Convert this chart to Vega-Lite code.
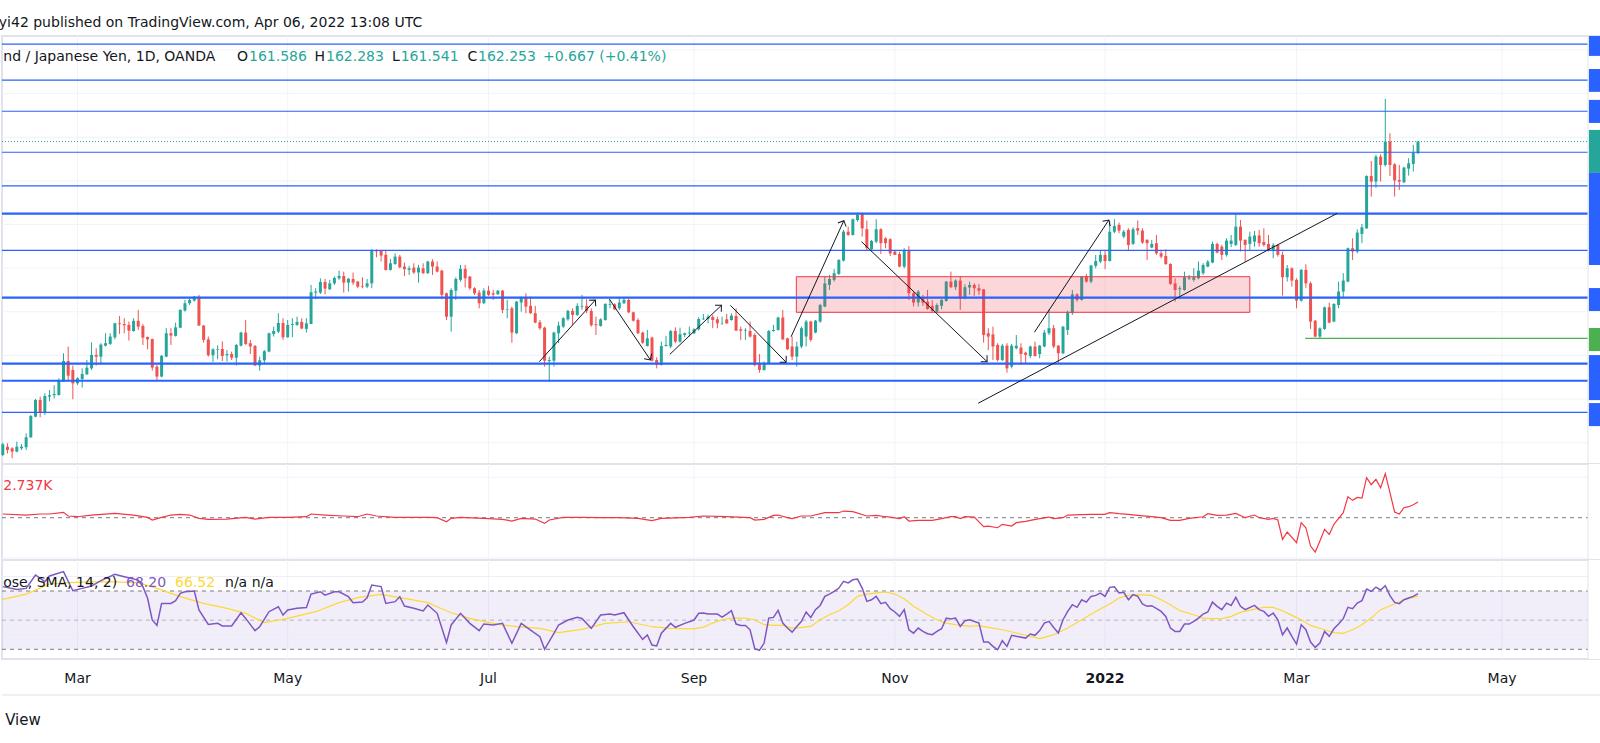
{
"$schema":"https://vega.github.io/schema/vega-lite/v6.json",
"background":"#ffffff",
"padding":{"left":-2,"top":15,"right":0,"bottom":0},
"title":{"text":"yi42 published on TradingView.com, Apr 06, 2022 13:08 UTC","anchor":"start","font":"DejaVu Sans","fontSize":14,"fontWeight":"normal","color":"#131722","offset":5},
"spacing":0,
"bounds":"flush",
"resolve":{"scale":{"x":"independent","y":"independent","color":"independent","strokeWidth":"independent"}},
"config":{"view":{"stroke":"#e0e3eb","strokeWidth":2},"axis":{"disable":true},"text":{"font":"DejaVu Sans","fontSize":14}},
"vconcat":[
{"width":1600,"height":428,
"layer":[
{"data":{"values":[{"k":16},{"k":61},{"k":104},{"k":148},{"k":191},{"k":236},{"k":277},{"k":321}]},"mark":{"type":"rule","color":"#f0f3fa"},
 "encoding":{"x":{"field":"k","type":"quantitative","scale":{"domain":[-0.17,342.4],"nice":false,"zero":false,"padding":0}}}},
{"data":{"values":[{"p":145},{"p":147.5},{"p":150},{"p":152.5},{"p":155},{"p":157.5},{"p":160},{"p":162.5},{"p":165},{"p":167.5}]},"mark":{"type":"rule","color":"#f0f3fa"},
 "encoding":{"x":{"datum":-0.17},"x2":{"datum":339.4},"y":{"field":"p","type":"quantitative","scale":{"domain":[143.78,168.3],"nice":false,"zero":false,"padding":0}}}},
{"data":{"values":"k,o,h,l,c\n0,144.30,145.00,144.24,144.91\n1,144.77,144.97,144.39,144.58\n2,144.68,144.74,144.11,144.49\n3,144.49,145.06,144.45,144.77\n4,144.68,144.93,144.58,144.77\n5,144.74,145.54,144.58,145.31\n6,145.31,146.59,145.27,146.53\n7,146.49,147.51,146.46,147.45\n8,147.45,147.64,146.46,146.74\n9,146.74,147.83,146.59,147.68\n10,147.64,148.02,147.37,147.72\n11,147.72,148.29,147.54,147.79\n12,147.73,148.69,147.70,148.59\n13,148.50,150.12,148.50,149.68\n14,149.68,150.51,148.50,148.84\n15,149.17,149.42,147.49,148.40\n16,148.40,148.75,148.31,148.69\n17,148.65,149.26,148.16,148.94\n18,148.92,149.74,148.88,149.30\n19,149.26,150.75,149.17,150.03\n20,150.03,150.41,149.42,149.93\n21,149.93,150.70,149.49,150.62\n22,150.56,151.27,150.51,150.70\n23,150.66,151.27,150.60,151.08\n24,151.04,151.88,150.92,151.84\n25,151.84,152.26,151.23,151.79\n26,151.80,152.13,151.27,151.73\n27,151.75,151.94,150.85,151.42\n28,151.40,152.13,151.36,151.98\n29,151.98,152.61,151.46,151.65\n30,151.69,151.80,150.60,151.02\n31,151.06,151.08,150.35,150.92\n32,150.94,150.96,149.13,149.30\n33,149.36,149.45,148.54,148.79\n34,148.79,150.03,148.75,149.97\n35,149.93,151.56,149.89,151.27\n36,151.27,151.56,150.60,151.14\n37,151.12,151.88,151.08,151.61\n38,151.59,152.64,151.56,152.61\n39,152.57,153.18,152.51,152.99\n40,152.99,153.26,152.89,153.18\n41,153.14,153.41,153.08,153.37\n42,153.37,153.47,151.69,151.71\n43,151.71,151.75,150.73,150.89\n44,150.92,151.08,149.93,150.01\n45,150.01,150.41,149.63,150.35\n46,150.33,150.58,149.78,150.37\n47,150.37,150.81,149.68,149.97\n48,150.01,150.31,149.65,150.08\n49,150.08,150.22,149.74,149.87\n50,149.87,150.66,149.42,150.60\n51,150.56,151.36,150.51,151.31\n52,151.31,152.03,150.60,150.66\n53,150.70,150.89,150.08,150.51\n54,150.54,150.60,149.40,149.42\n55,149.42,149.93,149.13,149.72\n56,149.72,150.31,149.55,150.24\n57,150.22,151.31,150.18,151.27\n58,151.23,151.65,151.08,151.40\n59,151.36,152.42,151.27,151.86\n60,151.86,152.13,150.89,151.04\n61,151.04,152.03,151.02,151.75\n62,151.75,152.13,151.04,151.80\n63,151.75,152.22,151.69,151.92\n64,151.92,152.13,151.50,151.54\n65,151.52,152.13,151.31,151.84\n66,151.80,154.04,151.80,153.62\n67,153.60,153.85,153.22,153.66\n68,153.60,154.42,153.52,154.21\n69,154.21,154.38,153.50,153.83\n70,153.79,154.33,153.75,154.13\n71,154.13,154.52,154.04,154.44\n72,154.42,154.86,154.33,154.55\n73,154.55,154.80,153.60,154.17\n74,154.17,154.42,153.66,154.40\n75,154.38,154.75,154.04,154.17\n76,154.23,154.27,153.85,153.94\n77,153.98,154.48,153.85,153.94\n78,153.94,154.38,153.85,154.13\n79,154.13,156.08,153.85,156.04\n80,156.04,156.08,155.62,155.95\n81,155.99,156.04,155.38,155.72\n82,155.76,156.01,154.86,154.90\n83,154.90,155.53,154.86,155.28\n84,155.24,155.85,155.19,155.66\n85,155.66,155.76,154.99,155.05\n86,155.09,155.32,154.55,154.94\n87,154.90,155.13,154.61,154.99\n88,155.03,155.28,154.67,154.75\n89,154.75,155.19,154.17,155.03\n90,154.99,155.28,154.67,154.71\n91,154.71,155.42,154.67,155.38\n92,155.38,155.51,154.61,155.09\n93,155.09,155.38,154.75,154.80\n94,154.86,154.90,153.22,153.47\n95,153.56,153.60,152.03,152.22\n96,152.22,153.85,151.36,153.75\n97,153.71,154.48,153.18,154.38\n98,154.33,155.19,154.23,154.96\n99,154.96,155.19,153.90,154.42\n100,154.52,154.55,153.75,153.85\n101,153.85,153.91,153.47,153.56\n102,153.60,153.75,152.70,152.99\n103,152.99,153.85,152.95,153.71\n104,153.71,153.98,153.41,153.47\n105,153.56,153.75,153.18,153.49\n106,153.50,153.75,153.47,153.71\n107,153.71,153.75,152.42,152.61\n108,152.63,153.18,152.13,152.66\n109,152.70,152.80,150.73,151.31\n110,151.27,153.12,151.23,153.08\n111,153.03,153.37,152.51,153.31\n112,153.31,153.56,152.42,152.80\n113,152.84,153.37,152.38,152.42\n114,152.42,152.84,151.84,151.88\n115,151.90,152.03,151.46,151.56\n116,151.59,151.65,149.36,149.70\n117,149.68,149.93,148.50,149.74\n118,149.70,151.36,149.36,151.31\n119,151.27,151.94,150.70,151.71\n120,151.65,152.19,151.56,152.13\n121,152.07,152.61,151.99,152.55\n122,152.55,152.70,151.75,152.32\n123,152.32,152.99,152.26,152.84\n124,152.80,153.47,152.61,152.84\n125,152.84,153.22,152.42,152.55\n126,152.55,152.70,151.65,151.73\n127,151.79,152.22,151.17,151.73\n128,151.69,152.13,151.65,152.07\n129,152.03,152.99,151.99,152.95\n130,152.89,153.22,152.70,152.93\n131,152.93,152.99,152.61,152.64\n132,152.70,153.33,152.61,153.03\n133,152.99,153.33,152.95,153.18\n134,153.18,153.24,152.42,152.47\n135,152.47,152.51,151.94,151.99\n136,152.03,152.13,151.23,151.27\n137,151.31,151.36,150.66,150.73\n138,150.54,151.46,150.51,150.98\n139,151.02,151.08,149.65,149.70\n140,149.74,149.89,149.26,149.45\n141,149.45,150.79,149.42,150.54\n142,150.54,151.12,150.51,150.60\n143,150.51,151.46,150.41,151.40\n144,151.40,151.61,150.70,150.79\n145,150.79,151.59,150.73,151.21\n146,151.17,151.31,151.04,151.27\n147,151.27,151.65,151.08,151.31\n148,151.27,151.56,151.23,151.50\n149,151.50,152.19,151.42,152.09\n150,152.07,152.38,152.03,152.11\n151,152.09,152.34,151.84,152.22\n152,152.20,152.32,151.56,152.03\n153,152.07,152.22,151.56,151.84\n154,151.84,152.22,151.75,151.86\n155,152.07,152.38,151.80,151.84\n156,152.03,152.42,151.99,152.28\n157,152.26,152.70,151.40,151.42\n158,151.50,151.65,150.89,151.42\n159,151.42,151.56,150.89,151.46\n160,151.40,151.94,151.02,151.08\n161,151.17,151.27,149.36,149.45\n162,149.49,150.08,149.01,149.17\n163,149.17,149.65,149.13,149.55\n164,149.55,151.46,149.51,151.40\n165,151.40,151.75,151.36,151.46\n166,151.46,152.22,151.42,152.17\n167,152.17,152.61,150.89,150.92\n168,150.98,151.02,150.31,150.35\n169,150.51,151.08,149.74,149.93\n170,149.93,150.79,149.36,150.51\n171,150.51,151.65,150.41,151.56\n172,151.08,152.03,150.51,151.94\n173,151.94,151.99,150.79,150.89\n174,151.31,152.03,151.27,151.99\n175,151.94,152.95,151.88,152.89\n176,152.80,154.55,152.76,154.13\n177,154.04,154.61,153.75,154.38\n178,154.33,154.94,154.23,154.71\n179,154.67,155.51,154.61,155.47\n180,155.43,157.19,155.38,157.09\n181,157.09,157.38,156.85,156.90\n182,156.90,157.84,156.87,157.80\n183,157.76,158.18,157.67,158.05\n184,158.15,158.20,156.81,157.28\n185,157.23,157.73,156.04,156.14\n186,156.08,156.62,156.04,156.56\n187,156.52,157.80,156.43,157.23\n188,157.23,157.29,155.81,156.43\n189,156.71,156.77,156.14,156.43\n190,156.66,156.71,155.70,155.85\n191,155.95,156.04,155.76,155.76\n192,155.81,155.95,155.05,155.09\n193,155.09,156.14,154.99,156.04\n194,156.04,156.27,153.18,153.56\n195,153.56,153.66,152.80,153.03\n196,153.03,153.75,152.80,153.66\n197,153.33,153.47,152.84,153.03\n198,153.08,153.75,152.61,152.66\n199,152.84,153.18,152.47,152.55\n200,152.51,152.99,152.42,152.89\n201,152.84,153.22,152.64,153.18\n202,153.12,154.27,153.08,154.23\n203,154.23,154.80,153.85,153.91\n204,153.91,154.36,153.75,154.29\n205,154.29,154.55,152.61,153.27\n206,153.26,154.08,153.22,153.91\n207,153.89,154.23,153.47,154.04\n208,154.04,154.13,153.41,153.85\n209,153.85,154.10,153.47,153.71\n210,153.79,153.79,150.73,151.17\n211,151.27,151.56,150.31,151.08\n212,151.21,151.65,149.74,150.51\n213,150.60,150.70,149.65,149.74\n214,149.74,150.66,149.68,150.56\n215,150.56,150.70,149.01,149.26\n216,149.36,150.66,149.26,150.56\n217,150.41,151.17,150.35,150.56\n218,150.45,150.70,149.45,150.08\n219,150.16,150.22,149.55,150.03\n220,149.97,150.56,149.84,150.51\n221,150.51,150.79,149.93,149.97\n222,150.08,150.60,149.84,150.56\n223,150.51,151.46,150.47,151.31\n224,151.27,152.64,151.17,151.56\n225,151.56,151.75,150.41,150.51\n226,150.56,150.60,149.55,150.12\n227,150.12,151.69,150.08,151.65\n228,151.46,152.57,151.17,152.47\n229,152.42,153.75,152.32,153.50\n230,153.50,153.56,153.08,153.18\n231,153.18,154.55,153.14,154.52\n232,154.52,154.67,154.17,154.23\n233,154.23,155.19,154.13,155.15\n234,155.13,155.76,154.99,155.41\n235,155.38,156.04,155.28,155.76\n236,155.76,156.04,154.94,155.41\n237,155.41,157.73,155.38,157.09\n238,157.09,157.80,157.00,157.42\n239,157.48,157.61,157.00,157.15\n240,156.81,157.19,156.71,157.09\n241,157.19,157.29,156.04,156.33\n242,156.39,157.34,156.33,157.23\n243,157.29,157.73,156.90,157.15\n244,157.15,157.29,156.39,156.47\n245,156.62,156.66,155.47,156.43\n246,156.18,156.62,156.14,156.39\n247,156.43,156.90,155.76,155.85\n248,155.85,156.04,155.57,155.66\n249,155.70,156.08,155.19,155.24\n250,155.24,155.28,154.04,154.10\n251,154.13,154.42,153.08,153.75\n252,153.79,153.98,153.22,153.85\n253,153.75,154.80,153.71,154.48\n254,154.40,154.61,154.33,154.46\n255,154.33,154.99,154.23,154.48\n256,154.42,155.38,154.36,154.86\n257,154.71,155.28,154.61,155.18\n258,155.09,155.47,155.05,155.37\n259,155.32,156.52,155.28,156.39\n260,156.39,156.46,155.85,155.89\n261,156.23,156.33,155.47,155.76\n262,155.76,156.71,155.66,156.58\n263,156.39,156.90,156.20,156.58\n264,156.33,158.11,156.27,157.38\n265,157.38,157.76,155.95,156.58\n266,156.62,156.65,155.37,156.33\n267,156.39,157.09,156.04,156.81\n268,156.52,157.13,156.23,156.87\n269,156.87,157.19,156.23,156.43\n270,156.50,157.28,156.23,156.33\n271,156.39,156.90,155.95,156.04\n272,156.04,156.43,155.57,156.33\n273,156.33,156.37,155.66,155.76\n274,155.76,155.95,153.43,154.48\n275,154.48,155.18,154.23,154.99\n276,154.99,155.05,153.94,154.29\n277,154.33,154.42,152.70,153.14\n278,153.14,154.95,153.08,154.90\n279,154.90,155.22,153.85,154.13\n280,154.13,154.23,151.52,151.94\n281,151.99,152.03,151.04,151.08\n282,151.08,151.61,150.98,151.55\n283,151.52,152.80,151.46,152.76\n284,152.76,153.02,151.84,151.88\n285,151.94,152.99,151.90,152.95\n286,152.89,154.23,152.70,153.66\n287,153.66,154.71,153.27,154.29\n288,154.23,156.18,154.19,156.14\n289,156.14,156.71,155.47,155.95\n290,155.95,157.23,155.85,157.04\n291,156.96,157.53,156.43,157.34\n292,157.28,160.32,157.25,160.28\n293,160.28,161.14,159.10,159.96\n294,159.96,161.49,159.61,161.39\n295,161.39,161.53,159.96,160.91\n296,160.91,164.70,160.82,162.25\n297,162.25,162.73,160.28,160.91\n298,160.95,161.01,159.10,160.02\n299,160.05,160.91,159.48,159.96\n300,159.92,160.82,159.86,160.76\n301,160.70,161.30,160.30,161.01\n302,160.97,162.06,160.53,161.62\n303,161.586,162.283,161.541,162.253","format":{"type":"csv","parse":{"k":"number","o":"number","h":"number","l":"number","c":"number"}}},
 "layer":[
  {"mark":{"type":"rule","strokeWidth":1},
   "encoding":{
    "x":{"field":"k","type":"quantitative"},
    "y":{"field":"l","type":"quantitative"},
    "y2":{"field":"h"},
    "color":{"condition":{"test":"datum.o <= datum.c","value":"#26a69a"},"value":"#ef5350"}}},
  {"mark":{"type":"bar","size":3},
   "encoding":{
    "x":{"field":"k","type":"quantitative"},
    "y":{"field":"o","type":"quantitative"},
    "y2":{"field":"c"},
    "color":{"condition":{"test":"datum.o <= datum.c","value":"#26a69a"},"value":"#ef5350"}}}
 ]},
{"data":{"values":[{}]},"mark":{"type":"rect","fill":"#f23645","fillOpacity":0.2,"stroke":"#f23645","strokeWidth":1},
 "encoding":{"x":{"datum":169.9},"x2":{"datum":267.0},"y":{"datum":154.51},"y2":{"datum":152.47}}},
{"data":{"values":[{"p":167.83,"kind":"minor"},{"p":165.77,"kind":"minor"},{"p":163.99,"kind":"minor"},{"p":161.64,"kind":"minor"},{"p":159.71,"kind":"minor"},{"p":158.12,"kind":"major"},{"p":156.02,"kind":"minor"},{"p":153.31,"kind":"major"},{"p":149.53,"kind":"major"},{"p":148.55,"kind":"major"},{"p":146.74,"kind":"minor"}]},
 "mark":{"type":"rule","color":"#2962ff"},
 "encoding":{"x":{"datum":-0.17},"x2":{"datum":339.4},"y":{"field":"p","type":"quantitative"},
  "strokeWidth":{"field":"kind","type":"nominal","scale":{"domain":["major","minor"],"range":[2.2,1.2]},"legend":null}}},
{"data":{"values":[{}]},"mark":{"type":"rule","color":"#26a69a","strokeDash":[1,2]},
 "encoding":{"x":{"datum":-0.17},"x2":{"datum":339.4},"y":{"datum":162.253}}},
{"data":{"values":[{}]},"mark":{"type":"rule","color":"#4caf50","strokeWidth":1.3},
 "encoding":{"x":{"datum":278.85},"x2":{"datum":339.4},"y":{"datum":150.98}}},
{"data":{"values":[{"g":"A1","k":114.87,"p":149.64},{"g":"A1","k":126.88,"p":153.18},{"g":"A2","k":129.88,"p":153.22},{"g":"A2","k":138.66,"p":149.74},{"g":"A3","k":142.81,"p":150.06},{"g":"A3","k":153.86,"p":152.87},{"g":"A4","k":155.79,"p":152.87},{"g":"A4","k":167.71,"p":149.61},{"g":"A5","k":168.78,"p":151.07},{"g":"A5","k":180.07,"p":157.72},{"g":"A6","k":183.84,"p":156.52},{"g":"A6","k":210.75,"p":149.64},{"g":"A7","k":220.88,"p":151.33},{"g":"A7","k":236.81,"p":157.76},{"g":"T","k":208.83,"p":147.26},{"g":"T","k":285.7,"p":158.14}]},
 "mark":{"type":"line","color":"#131722","strokeWidth":1},
 "encoding":{"x":{"field":"k","type":"quantitative"},"y":{"field":"p","type":"quantitative"},"detail":{"field":"g","type":"nominal"}}},
{"data":{"values":[{"k":126.88,"p":153.18,"a":42},{"k":138.66,"p":149.74,"a":146},{"k":153.86,"p":152.87,"a":46},{"k":167.71,"p":149.61,"a":136},{"k":180.07,"p":157.72,"a":24},{"k":210.75,"p":149.64,"a":134},{"k":236.81,"p":157.76,"a":33}]},
 "mark":{"type":"point","shape":"M-1,1L0,0L1,1","filled":false,"stroke":"#131722","strokeWidth":1,"size":81,"opacity":1},
 "encoding":{"x":{"field":"k","type":"quantitative"},"y":{"field":"p","type":"quantitative"},"angle":{"field":"a","type":"quantitative","scale":null}}},
{"data":{"values":[{}]},"mark":{"type":"rect","color":"#ffffff"},
 "encoding":{"x":{"datum":339.4},"x2":{"datum":342.4},"y":{"datum":168.3},"y2":{"datum":143.78}}},
{"data":{"values":[{}]},"mark":{"type":"rule","color":"#e0e3eb"},"encoding":{"x":{"datum":339.4}}},
{"data":{"values":[{"t":168.30,"b":167.16,"kind":"level"},{"t":166.41,"b":165.10,"kind":"level"},{"t":164.64,"b":163.32,"kind":"level"},{"t":162.92,"b":160.46,"kind":"close"},{"t":160.46,"b":155.18,"kind":"level"},{"t":153.86,"b":152.54,"kind":"level"},{"t":151.57,"b":150.25,"kind":"low"},{"t":150.02,"b":147.44,"kind":"level"},{"t":147.27,"b":145.95,"kind":"level"}]},
 "mark":{"type":"rect"},
 "encoding":{"x":{"datum":339.6},"x2":{"datum":342.4},"y":{"field":"t","type":"quantitative"},"y2":{"field":"b"},
  "color":{"field":"kind","type":"nominal","scale":{"domain":["level","close","low"],"range":["#2962ff","#26a69a","#4caf50"]},"legend":null}}},
{"data":{"values":[{}]},"mark":{"type":"text","text":"nd / Japanese Yen, 1D, OANDA","align":"left","baseline":"middle","color":"#131722"},"encoding":{"x":{"datum":0.1},"y":{"datum":167.12}}},
{"data":{"values":[{}]},"mark":{"type":"text","text":"O","align":"left","baseline":"middle","color":"#131722"},"encoding":{"x":{"datum":50.15},"y":{"datum":167.12}}},
{"data":{"values":[{}]},"mark":{"type":"text","text":"161.586","align":"left","baseline":"middle","color":"#26a69a"},"encoding":{"x":{"datum":52.71},"y":{"datum":167.12}}},
{"data":{"values":[{}]},"mark":{"type":"text","text":"H","align":"left","baseline":"middle","color":"#131722"},"encoding":{"x":{"datum":66.74},"y":{"datum":167.12}}},
{"data":{"values":[{}]},"mark":{"type":"text","text":"162.283","align":"left","baseline":"middle","color":"#26a69a"},"encoding":{"x":{"datum":69.2},"y":{"datum":167.12}}},
{"data":{"values":[{}]},"mark":{"type":"text","text":"L","align":"left","baseline":"middle","color":"#131722"},"encoding":{"x":{"datum":83.33},"y":{"datum":167.12}}},
{"data":{"values":[{}]},"mark":{"type":"text","text":"161.541","align":"left","baseline":"middle","color":"#26a69a"},"encoding":{"x":{"datum":85.19},"y":{"datum":167.12}}},
{"data":{"values":[{}]},"mark":{"type":"text","text":"C","align":"left","baseline":"middle","color":"#131722"},"encoding":{"x":{"datum":99.52},"y":{"datum":167.12}}},
{"data":{"values":[{}]},"mark":{"type":"text","text":"162.253","align":"left","baseline":"middle","color":"#26a69a"},"encoding":{"x":{"datum":101.75},"y":{"datum":167.12}}},
{"data":{"values":[{}]},"mark":{"type":"text","text":"+0.667 (+0.41%)","align":"left","baseline":"middle","color":"#26a69a"},"encoding":{"x":{"datum":115.66},"y":{"datum":167.12}}}
]},
{"width":1600,"height":96,
"layer":[
{"data":{"values":[{"k":16},{"k":61},{"k":104},{"k":148},{"k":191},{"k":236},{"k":277},{"k":321}]},"mark":{"type":"rule","color":"#f0f3fa"},
 "encoding":{"x":{"field":"k","type":"quantitative","scale":{"domain":[-0.17,342.4],"nice":false,"zero":false}}}},
{"data":{"values":[{"v":-6.25},{"v":6.25}]},"mark":{"type":"rule","color":"#f0f3fa"},
 "encoding":{"x":{"datum":-0.17},"x2":{"datum":339.4},"y":{"field":"v","type":"quantitative","scale":{"domain":[-6.54,8.3],"nice":false,"zero":false}}}},
{"data":{"values":[{}]},"mark":{"type":"rule","color":"#787b86","strokeDash":[4,4]},
 "encoding":{"x":{"datum":-0.17},"x2":{"datum":339.4},"y":{"datum":0}}},
{"data":{"values":"k,v\n0,0.57\n5,0.41\n8,0.57\n10,0.57\n13,0.82\n14,0.26\n16,0.15\n19,0.41\n24,0.67\n28,0.41\n31,0.05\n32,-0.36\n34,0.05\n36,0.41\n38,0.52\n40,0.41\n42,-0.1\n44,-0.26\n48,-0.21\n52,0.05\n54,-0.21\n57,0.05\n61,0.05\n65,0.15\n66,0.57\n69,0.41\n73,0.26\n76,0.15\n78,0.57\n80,0.26\n84,0.05\n91,0.05\n93,0\n95,-0.62\n96,-0.1\n98,0.05\n103,-0.1\n107,-0.26\n109,-0.52\n111,-0.1\n114,-0.21\n116,-0.88\n117,-0.36\n120,0.05\n124,0.05\n128,0\n132,0\n136,-0.1\n139,-0.46\n141,-0.1\n147,0.05\n150,0.26\n155,0.15\n160,0\n161,-0.36\n163,-0.26\n165,0.36\n166,0.41\n168,0\n169,-0.15\n171,0.26\n173,0.26\n176,0.77\n179,0.77\n180,1.03\n182,0.93\n185,0.26\n187,0.36\n189,0.15\n190,0.1\n192,-0.15\n193,0.15\n194,-0.52\n196,-0.41\n199,-0.41\n201,-0.15\n203,0.15\n204,0.15\n205,-0.15\n206,0.15\n208,0.1\n210,-1.39\n211,-1.29\n213,-1.55\n214,-1.03\n216,-1.29\n217,-0.77\n219,-0.57\n220,-0.41\n222,-0.15\n224,0.1\n225,-0.15\n227,0\n228,0.41\n231,0.46\n233,0.52\n236,0.52\n237,0.77\n239,0.62\n241,0.52\n243,0.36\n246,0.15\n248,0\n250,-0.41\n252,-0.41\n254,-0.1\n257,0.15\n258,0.62\n260,0.36\n262,0.41\n264,0.67\n266,0\n268,0.41\n269,0\n271,-0.26\n272,-0.1\n273,-0.36\n274,-3.35\n275,-2.21\n277,-3.86\n278,-0.77\n279,-1.55\n280,-4.38\n281,-5.31\n282,-3.61\n283,-1.8\n284,-2.58\n285,-1.03\n287,0.77\n288,3.24\n289,2.68\n290,3.14\n291,3.04\n292,6.18\n293,5.1\n294,5.92\n295,4.64\n296,6.8\n297,3.86\n298,0.88\n299,0.57\n300,1.55\n301,1.7\n302,2\n303,2.42","format":{"type":"csv","parse":{"k":"number","v":"number"}}},
 "mark":{"type":"line","color":"#f23645","strokeWidth":1.2},
 "encoding":{"x":{"field":"k","type":"quantitative"},"y":{"field":"v","type":"quantitative"}}},
{"data":{"values":[{}]},"mark":{"type":"rect","color":"#ffffff"},
 "encoding":{"x":{"datum":339.4},"x2":{"datum":342.4},"y":{"datum":8.3},"y2":{"datum":-6.54}}},
{"data":{"values":[{}]},"mark":{"type":"rule","color":"#e0e3eb"},"encoding":{"x":{"datum":339.4}}},
{"data":{"values":[{}]},"mark":{"type":"text","text":"2.737K","align":"left","baseline":"middle","color":"#f23645"},"encoding":{"x":{"datum":0.1},"y":{"datum":4.95}}}
]},
{"width":1600,"height":99,
"layer":[
{"data":{"values":[{"k":16},{"k":61},{"k":104},{"k":148},{"k":191},{"k":236},{"k":277},{"k":321}]},"mark":{"type":"rule","color":"#f0f3fa"},
 "encoding":{"x":{"field":"k","type":"quantitative","scale":{"domain":[-0.17,342.4],"nice":false,"zero":false}}}},
{"data":{"values":[{}]},"mark":{"type":"rect","color":"#7e57c2","opacity":0.1},
 "encoding":{"x":{"datum":-0.17},"x2":{"datum":339.4},"y":{"datum":70,"type":"quantitative","scale":{"domain":[23.35,91.27],"nice":false,"zero":false}},"y2":{"datum":30}}},
{"data":{"values":[{"r":40},{"r":80}]},"mark":{"type":"rule","color":"#eceef3"},
 "encoding":{"x":{"datum":-0.17},"x2":{"datum":339.4},"y":{"field":"r","type":"quantitative"}}},
{"data":{"values":[{"r":70},{"r":30}]},"mark":{"type":"rule","color":"#787b86","strokeDash":[4,4]},
 "encoding":{"x":{"datum":-0.17},"x2":{"datum":339.4},"y":{"field":"r","type":"quantitative"}}},
{"data":{"values":[{}]},"mark":{"type":"rule","color":"#b2b5be","strokeDash":[4,4]},
 "encoding":{"x":{"datum":-0.17},"x2":{"datum":339.4},"y":{"datum":50}}},
{"data":{"values":"k,s\n0,64.3\n5,67.9\n10,74.8\n14,75.7\n19,76.2\n24,76.2\n29,75.7\n33,71.8\n38,66.1\n43,61.5\n48,58.1\n52,54.7\n56,48.3\n61,51.2\n67,55.8\n72,62.0\n76,65.4\n81,67.7\n86,65.0\n91,62.0\n93,59.2\n96,55.1\n100,51.2\n105,47.8\n110,45.5\n115,44.4\n119,41.4\n124,43.7\n129,47.8\n134,48.9\n139,45.5\n143,44.4\n148,44.0\n150,45.2\n152,48.0\n154,50.3\n156,51.4\n159,51.4\n161,50.3\n163,46.9\n165,46.4\n167,46.4\n169,44.6\n171,45.0\n173,45.7\n175,50.3\n177,53.7\n179,56.5\n181,60.6\n183,66.3\n185,67.9\n188,69.1\n189,69.3\n191,67.9\n193,64.7\n195,59.5\n198,53.7\n200,50.3\n202,48.0\n204,46.9\n207,45.7\n209,46.2\n211,45.0\n214,43.4\n217,41.2\n220,38.9\n222,37.3\n223,38.2\n225,40.0\n228,44.6\n231,50.3\n234,56.0\n237,61.1\n239,65.2\n241,67.0\n243,67.5\n246,67.0\n248,64.0\n250,60.6\n252,56.5\n255,53.7\n257,51.4\n259,51.0\n261,51.0\n263,52.6\n265,55.3\n268,57.6\n270,58.8\n272,58.8\n274,56.5\n276,53.3\n278,50.3\n280,46.4\n283,43.4\n285,41.4\n287,40.9\n289,43.4\n291,46.9\n293,51.4\n295,57.2\n298,61.1\n300,64.0\n303,66.5","format":{"type":"csv","parse":{"k":"number","s":"number"}}},
 "mark":{"type":"line","color":"#fdd835","strokeWidth":1.2},
 "encoding":{"x":{"field":"k","type":"quantitative"},"y":{"field":"s","type":"quantitative"}}},
{"data":{"values":"k,r\n0,73.0\n3,71.1\n5,71.8\n7,81.0\n9,76.4\n10,80.3\n13,83.3\n15,70.2\n17,71.8\n19,73.4\n21,77.1\n24,81.4\n26,79.8\n29,77.5\n30,73.0\n31,65.0\n32,50.1\n33,46.4\n34,61.5\n36,61.5\n37,63.4\n38,68.4\n39,69.5\n41,70.0\n42,57.0\n44,47.1\n46,47.8\n47,46.0\n49,46.0\n51,55.1\n52,51.2\n54,42.8\n55,45.5\n57,55.8\n59,59.2\n60,53.5\n61,57.0\n63,58.1\n65,58.6\n66,67.9\n68,69.5\n69,67.2\n71,69.5\n72,69.5\n74,66.1\n75,62.0\n77,62.5\n78,65.4\n79,74.1\n81,73.0\n82,61.5\n84,62.7\n85,66.1\n86,59.7\n88,58.1\n90,56.3\n91,60.4\n93,54.7\n95,34.6\n96,46.7\n98,54.7\n100,47.8\n102,42.8\n103,47.4\n105,46.7\n107,47.8\n109,34.1\n111,47.8\n113,43.2\n115,38.7\n116,30.0\n118,41.0\n119,46.7\n121,50.1\n123,51.9\n124,51.2\n126,44.4\n128,53.5\n130,54.2\n131,53.5\n133,55.1\n135,45.5\n137,36.8\n138,39.8\n139,32.9\n140,32.3\n141,41.0\n143,47.8\n144,45.1\n146,47.8\n148,50.1\n149,54.7\n150,54.9\n151,54.2\n153,54.2\n154,52.1\n155,54.2\n156,56.5\n157,47.3\n158,46.4\n159,46.4\n160,43.4\n161,30.4\n162,29.3\n163,34.3\n164,51.4\n165,51.9\n166,56.7\n167,48.0\n168,44.6\n169,41.8\n170,45.7\n171,49.2\n172,55.6\n173,51.9\n174,57.2\n175,60.1\n176,66.3\n177,67.9\n178,69.7\n179,72.0\n180,76.6\n181,75.5\n182,77.7\n183,78.2\n184,72.0\n185,62.9\n186,64.0\n187,66.3\n188,61.3\n189,62.2\n190,57.9\n191,55.6\n192,52.6\n193,57.2\n194,43.4\n195,41.1\n196,44.6\n197,42.3\n198,40.7\n199,40.0\n200,42.3\n201,44.1\n202,51.4\n203,50.8\n204,51.4\n205,45.7\n206,49.6\n207,50.3\n209,48.0\n210,35.0\n211,35.0\n212,32.0\n213,29.7\n214,35.9\n215,32.0\n216,39.6\n217,38.9\n219,37.7\n220,40.5\n221,39.6\n222,42.8\n223,48.0\n224,49.2\n225,45.0\n226,41.2\n227,50.3\n228,56.0\n229,60.6\n230,58.8\n231,64.0\n232,62.4\n233,66.3\n234,67.0\n235,68.6\n236,66.3\n237,72.5\n238,72.9\n239,68.6\n240,69.1\n241,64.0\n242,67.5\n243,66.3\n244,61.1\n245,59.5\n246,59.9\n248,56.0\n249,52.6\n250,44.6\n251,42.3\n252,42.3\n253,47.3\n254,47.3\n255,49.2\n256,51.4\n257,54.2\n258,55.6\n259,62.4\n260,59.5\n261,57.2\n262,61.7\n263,60.1\n264,65.6\n265,59.5\n266,57.2\n268,60.1\n269,57.2\n270,56.0\n271,52.6\n272,54.9\n273,50.3\n274,40.0\n275,44.6\n276,38.9\n277,33.6\n278,46.9\n279,43.4\n280,35.0\n281,31.3\n282,34.3\n283,42.3\n284,38.9\n285,44.1\n286,47.3\n287,51.0\n288,58.8\n289,57.9\n290,61.7\n291,63.3\n292,71.3\n293,69.7\n294,72.7\n295,70.7\n296,73.6\n297,66.8\n298,62.2\n299,61.3\n300,64.0\n301,65.2\n302,66.3\n303,68.2","format":{"type":"csv","parse":{"k":"number","r":"number"}}},
 "mark":{"type":"line","color":"#7e57c2","strokeWidth":1.5},
 "encoding":{"x":{"field":"k","type":"quantitative"},"y":{"field":"r","type":"quantitative"}}},
{"data":{"values":[{}]},"mark":{"type":"rect","color":"#ffffff"},
 "encoding":{"x":{"datum":339.4},"x2":{"datum":342.4},"y":{"datum":91.27},"y2":{"datum":23.35}}},
{"data":{"values":[{}]},"mark":{"type":"rule","color":"#e0e3eb"},"encoding":{"x":{"datum":339.4}}},
{"data":{"values":[{}]},"mark":{"type":"text","text":"ose, SMA, 14, 2)","align":"left","baseline":"middle","color":"#131722"},"encoding":{"x":{"datum":0.1},"y":{"datum":75.3}}},
{"data":{"values":[{}]},"mark":{"type":"text","text":"68.20","align":"left","baseline":"middle","color":"#7e57c2"},"encoding":{"x":{"datum":26.38},"y":{"datum":75.3}}},
{"data":{"values":[{}]},"mark":{"type":"text","text":"66.52","align":"left","baseline":"middle","color":"#fdd835"},"encoding":{"x":{"datum":36.87},"y":{"datum":75.3}}},
{"data":{"values":[{}]},"mark":{"type":"text","text":"n/a  n/a","align":"left","baseline":"middle","color":"#131722"},"encoding":{"x":{"datum":47.58},"y":{"datum":75.3}}},
{"data":{"values":[{"k":16,"m":"Mar"},{"k":61,"m":"May"},{"k":104,"m":"Jul"},{"k":148,"m":"Sep"},{"k":191,"m":"Nov"},{"k":277,"m":"Mar"},{"k":321,"m":"May"}]},
 "mark":{"type":"text","align":"center","baseline":"middle","color":"#131722"},
 "encoding":{"x":{"field":"k","type":"quantitative"},"y":{"datum":9.63},"text":{"field":"m","type":"nominal"}}},
{"data":{"values":[{}]},"mark":{"type":"text","text":"2022","align":"center","baseline":"middle","fontWeight":"bold","color":"#131722"},"encoding":{"x":{"datum":236},"y":{"datum":9.63}}},
{"data":{"values":[{}]},"mark":{"type":"rule","color":"#eef0f4","strokeWidth":2},
 "encoding":{"x":{"datum":-0.17},"x2":{"datum":342.4},"y":{"datum":-1.35}}},
{"data":{"values":[{}]},"mark":{"type":"text","text":"View","align":"left","baseline":"middle","fontSize":15,"color":"#131722"},"encoding":{"x":{"datum":0.5},"y":{"datum":-18.5}}}
]}
]
}
